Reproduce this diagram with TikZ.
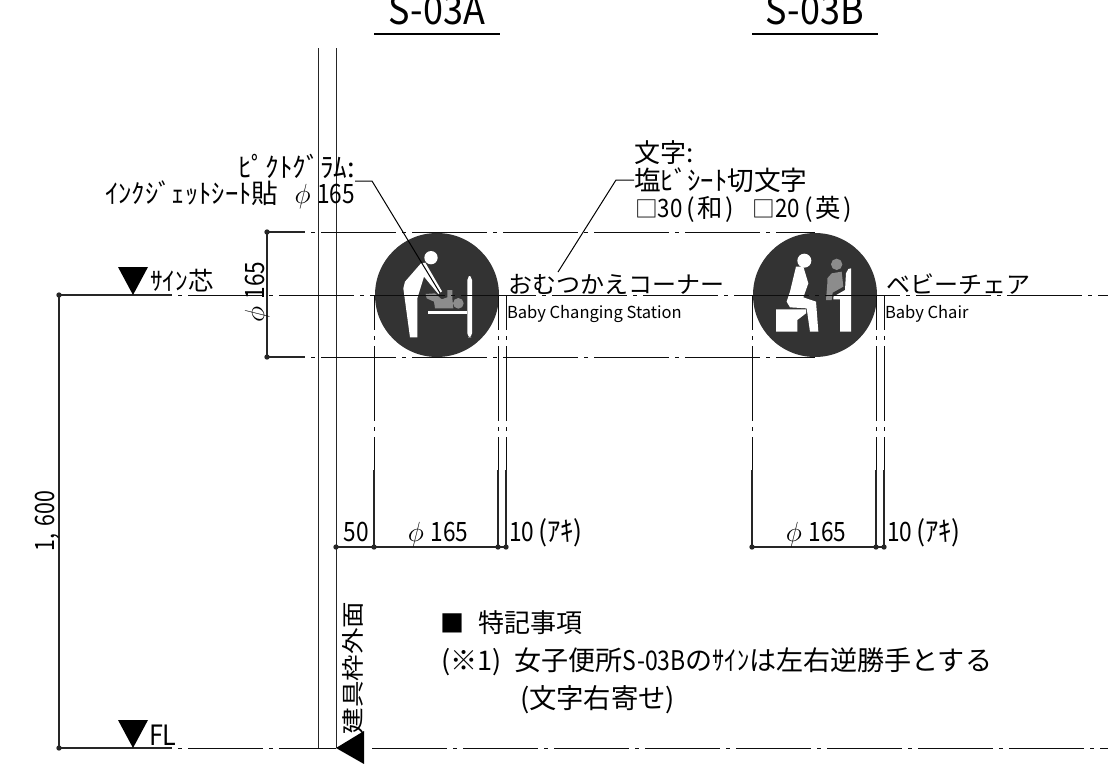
\documentclass[tikz,border=0pt]{standalone}
\usepackage{fontspec}
\setmainfont{Noto Sans CJK JP}
\newcommand\fz[1]{\fontsize{#1}{#1}\selectfont}
\newcommand\sq[2]{\scalebox{#1}[1]{#2}}
\newcommand\phival{{\fz{22}$\phi$}\hspace{5pt}{\fz{20}\sq{0.85}{165}}}
\newcommand\akiv{{\fz{20}\sq{0.85}{10}}\hspace{3pt}{\fz{21}\sq{0.95}{(ｱｷ)}}}
\tikzset{
  x=0.75pt,y=-0.75pt,
  txt/.style={inner sep=0pt,outer sep=0pt,text=black},
  dotn/.style={circle,fill=black!85,inner sep=0pt,minimum size=4pt},
  dim/.style={draw=black!85,line width=0.8pt},
  cen/.style={draw=black!95,line width=0.65pt,dash pattern=on 56.25pt off 4.5pt on 3pt off 4.5pt},
  cengap/.style={cen,dash phase=56.25pt},
  wall/.style={draw=black!85,line width=0.7pt},
  disc/.style={circle,fill=black!80,draw=none,minimum size=93pt,inner sep=0pt},
  tri/.style={fill=black,draw=none},
  wht/.style={fill=white,draw=none},
  gry/.style={fill=black!45,draw=none},
  leader/.style={draw=black,line width=0.75pt},
  ul/.style={draw=black,line width=1.5pt}
}
\begin{document}
\begin{tikzpicture}
\useasboundingbox (0,0) rectangle (1108,764);
\begin{scope}
\clip (0,0) rectangle (1108,764);
% titles
\node[txt,anchor=base] (t1) at (437,24) {\fz{30}\sq{0.9}{S-03A}};
\node[txt,anchor=base] (t2) at (815,24) {\fz{30}\sq{0.9}{S-03B}};
\end{scope}
\coordinate (u1a) at (374,33.5); \coordinate (u1b) at (500,33.5);
\coordinate (u2a) at (752,33.5); \coordinate (u2b) at (878,33.5);
\draw[ul] (u1a)--(u1b);
\draw[ul] (u2a)--(u2b);
% wall
\coordinate (w1a) at (318,48); \coordinate (w1b) at (318,748);
\coordinate (w2a) at (336,48); \coordinate (w2b) at (336,748);
\draw[wall] (w1a)--(w1b); \draw[wall] (w2a)--(w2b);
% discs
\node[disc] (c1) at (437,295) {};
\node[disc] (c2) at (815,295) {};
% icon 1
\begin{scope}[shift={(360,220)},xscale=1/3,yscale=1/3]
 \fill[wht] (213,113) circle (20);
 \fill[wht] (183,130)--(135,185)--(130,205)--(150,352)--(172,352)--(172,235)--(192,170)--(235,222)--(246,214)--(196,128)--cycle;
 \fill[wht,rounded corners=3] (322,168) rectangle (336,352);
 \fill[wht] (203,272) rectangle (322,282);
 \fill[gry] (197,222)--(225,220)--(245,238)--(262,232)--(262,210)--(277,210)--(277,235)--(280,265)--(225,265)--(222,245)--(200,235)--cycle;
 \fill[gry] (295,250) circle (16);
\end{scope}
% icon 2
\begin{scope}[shift={(740,220)},xscale=1/3,yscale=1/3]
 \fill[wht] (193,122) circle (21);
 \fill[wht] (168,140)--(150,215)--(140,245)--(150,262)--(200,265)--(210,335)--(235,335)--(228,245)--(190,232)--(205,190)--(190,140)--cycle;
 \fill[wht] (108,268)--(198,268)--(198,280)--(172,300)--(172,335)--(108,335)--cycle;
 \fill[wht] (325,147)--(333,145)--(333,335)--(300,335)--(300,238)--(280,238)--(280,230)--(315,210)--(318,160)--cycle;
 \fill[gry] (290,133) circle (17);
 \fill[gry] (275,160)--(305,155)--(310,200)--(278,218)--(275,240)--(258,240)--(262,190)--(262,175)--cycle;
\end{scope}
% dots
\node[dotn] (dT) at (267,232) {};
\node[dotn] (dB) at (267,357) {};
\node[dotn] (dS) at (59,295) {};
\node[dotn] (dF) at (59,748) {};
\node[dotn] (d0) at (336,547) {};
\node[dotn] (d1) at (374,547) {};
\node[dotn] (d2) at (498,547) {};
\node[dotn] (d3) at (506,547) {};
\node[dotn] (d4) at (752,547) {};
\node[dotn] (d5) at (876,547) {};
\node[dotn] (d6) at (884,547) {};
% coordinates
\coordinate (sE) at (172,295); \coordinate (sR) at (1108,295);
\coordinate (fE) at (172,748); \coordinate (fM) at (336,748);
\coordinate (fN) at (372,748); \coordinate (fR) at (1108,748);
\coordinate (tE) at (305,232); \coordinate (tR) at (815,232);
\coordinate (bE) at (305,357); \coordinate (bR) at (815,357);
% horizontals
\draw[dim] (dS.center)--(sE);
\draw[cengap] (sE)--(sR);
\draw[dim] (dF.center)--(fE);
\draw[cengap] (fE)--(fM);
\draw[cen] (fN)--(fR);
\draw[dim] (dT.center)--(tE);
\draw[cengap] (tE)--(tR);
\draw[dim] (dB.center)--(bE);
\draw[cengap] (bE)--(bR);
% dims
\draw[dim] (dT.center)--(dB.center);
\draw[dim] (dS.center)--(dF.center);
\draw[dim] (d0.center)--(d3.center);
\draw[dim] (d4.center)--(d6.center);
% extension lines
\foreach \n/\xx in {1/374,2/498,3/506,4/752,5/876,6/884}{
  \coordinate (e\n) at (\xx,295);
  \coordinate (f\n) at (\xx,470);
  \draw[cen,dash phase=30pt] (e\n)--(f\n);
  \draw[dim] (f\n)--(d\n.center);
}
% triangles
\coordinate (a1) at (118,267); \coordinate (a2) at (148,267); \coordinate (a3) at (133,295);
\fill[tri] (a1)--(a2)--(a3)--cycle;
\coordinate (b1) at (118,720); \coordinate (b2) at (148,720); \coordinate (b3) at (133,748);
\fill[tri] (b1)--(b2)--(b3)--cycle;
\coordinate (g1) at (336,748); \coordinate (g2) at (364,731); \coordinate (g3) at (364,764);
\fill[tri] (g1)--(g2)--(g3)--cycle;
% labels
\node[txt,anchor=base west] (lS) at (150,290) {\fz{19}ｻｲﾝ芯};
\node[txt,anchor=base west] (lF) at (149,745) {\fz{21}\sq{0.9}{FL}};
\node[txt,anchor=base,rotate=90] (l165) at (264,292) {\phival};
\node[txt,anchor=base,rotate=90] (l1600) at (55,521) {\fz{20}\sq{0.8}{1,\hspace{7pt}600}};
\node[txt,anchor=base east] (p1) at (355,177) {\fz{20.5}ﾋﾟｸﾄｸﾞﾗﾑ:};
\node[txt,anchor=base west] (p2) at (105,203) {\fz{20}ｲﾝｸｼﾞｪｯﾄｼｰﾄ貼};
\node[txt,anchor=base east] (p3) at (355,203) {\phival};
\node[txt,anchor=base west] (m1) at (634,162) {\fz{19.5}文字:};
\node[txt,anchor=base west] (m2) at (634,190) {\fz{20}塩ﾋﾞｼｰﾄ切文字};
\node[txt,anchor=base west] (m3) at (635,217) {\fz{17}□\fz{19}\sq{0.88}{30}\hspace{3pt}(\hspace{2pt}和\hspace{2pt})\hspace{14pt}\fz{17}□\fz{19}\sq{0.88}{20}\hspace{3pt}(\hspace{2pt}英\hspace{2pt})};
\node[txt,anchor=base west] (j1) at (508,293) {\fz{18}おむつかえコーナー};
\node[txt,anchor=base west] (e1) at (507,318) {\fz{12.4}Baby Changing Station};
\node[txt,anchor=base west] (j2) at (886,293) {\fz{18}ベビーチェア};
\node[txt,anchor=base west] (e2) at (885,318) {\fz{12.4}Baby Chair};
% leaders
\coordinate (q1) at (355,181); \coordinate (q2) at (372,181); \coordinate (q3) at (440,293);
\draw[leader] (q1)--(q2)--(q3);
\coordinate (r1) at (634,180); \coordinate (r2) at (616,180); \coordinate (r3) at (558,272);
\draw[leader] (r1)--(r2)--(r3);
% dim text
\node[txt,anchor=base] (n50) at (356,541) {\fz{20}\sq{0.85}{50}};
\node[txt,anchor=base] (n1) at (438,541) {\phival};
\node[txt,anchor=base west] (n2) at (509,541) {\akiv};
\node[txt,anchor=base] (n3) at (816,541) {\phival};
\node[txt,anchor=base west] (n4) at (887,541) {\akiv};
\node[txt,anchor=base,rotate=90] (wl) at (361,668) {\fz{17}\sq{1.17}{建具枠外面}};
% notes
\node[txt,anchor=base west] (s0) at (440,632) {\fz{18}■};
\node[txt,anchor=base west] (s1) at (478,632) {\fz{19.5}特記事項};
\node[txt,anchor=base west] (s2) at (441,670) {\fz{20.3}(※1)\hspace{10pt}女子便所\sq{0.85}{S-03B}の\sq{0.9}{ｻｲﾝ}は左右逆勝手とする};
\node[txt,anchor=base west] (s3) at (520,708) {\fz{20.5}(文字右寄せ)};
\end{tikzpicture}
\end{document}
